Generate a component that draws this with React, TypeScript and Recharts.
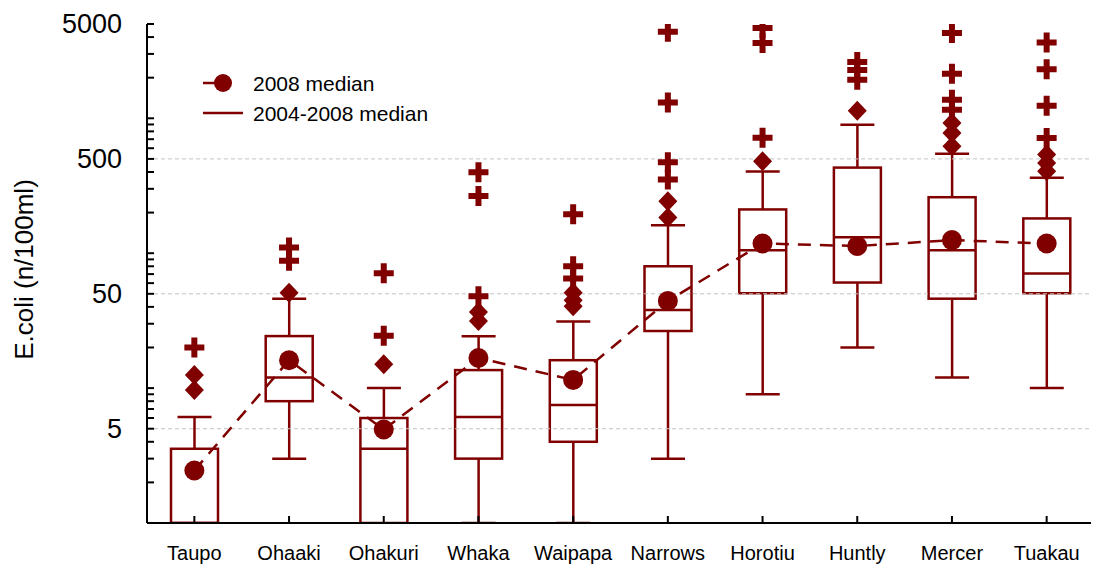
import React from "react";
import { ComposedChart, Bar, Line, Scatter, XAxis, YAxis, ReferenceLine, Legend } from "recharts";

const sites = ["Taupo", "Ohaaki", "Ohakuri", "Whaka", "Waipapa", "Narrows", "Horotiu", "Huntly", "Mercer", "Tuakau"];
const whiskerLow = [1, 3, 1, 1, 1, 3, 9, 20, 12, 10];
const quartile1 = [1, 8, 1, 3, 4, 26.5, 50.5, 60.6, 46, 50.5];
const median0408 = [1, 12, 3.55, 6.1, 7.5, 38, 105, 131, 105, 70.6];
const quartile3 = [3.55, 24.3, 6, 13.6, 16.1, 80, 211, 431, 260, 181];
const whiskerHigh = [6.1, 46, 10, 24.2, 31.2, 161, 403, 897, 545, 362];
const median2008 = [2.45, 16.1, 4.93, 16.7, 11.5, 44.3, 118, 113, 125, 118];
const outliers = [
  [12.5, 9.7],
  [51],
  [15],
  [36.6, 31.4],
  [51, 44.8, 40.5],
  [243, 184],
  [480],
  [1137],
  [620, 778, 922],
  [538, 467, 405],
];
const extremes = [
  [20],
  [110, 88],
  [24.4, 71],
  [48, 265, 398],
  [65, 80, 194],
  [352, 472, 1310, 4385],
  [718, 3620, 4670],
  [1929, 2284, 2618],
  [1157, 1371, 2136, 4280],
  [714, 1238, 2314, 3640],
];
const yLabelTicks = [5, 50, 500, 5000];
const yMinorTicks = [1, 2, 3, 4, 6, 7, 8, 9, 10, 20, 30, 40, 60, 70, 80, 90, 100, 200, 300, 400, 600, 700, 800, 900, 1000, 2000, 3000, 4000];
const legendItems = [
  { label: "2008 median", marker: true },
  { label: "2004-2008 median", marker: false },
];

const RED = "#800000";
const FONT = "'Liberation Sans', Arial, sans-serif";

const boxData = sites.map((site, i) => ({
  site,
  wLow: whiskerLow[i],
  q1: quartile1[i],
  med: median0408[i],
  q3: quartile3[i],
  wHigh: whiskerHigh[i],
  median2008: median2008[i],
}));

const outlierData = sites.flatMap((site, i) => outliers[i].map((value) => ({ site, value })));
const extremeData = sites.flatMap((site, i) => extremes[i].map((value) => ({ site, value })));
const allYTicks = [...yMinorTicks, ...yLabelTicks].sort((a, b) => a - b);

// box drawn inside the whisker range bar, positions found on the log axis
function BoxShape(props: any) {
  const { x, y, width, height, payload } = props;
  const hi = Math.log10(payload.wHigh);
  const lo = Math.log10(payload.wLow);
  const toY = (v: number) => y + ((hi - Math.log10(v)) / (hi - lo)) * height;
  const cx = x + width / 2;
  const capHalf = 17;
  const yQ1 = toY(payload.q1);
  const yQ3 = toY(payload.q3);
  const yMed = toY(payload.med);
  return (
    <g stroke={RED} strokeWidth={2.5} fill="none">
      <line x1={cx} x2={cx} y1={y} y2={yQ3} />
      <line x1={cx} x2={cx} y1={yQ1} y2={y + height} />
      <line x1={cx - capHalf} x2={cx + capHalf} y1={y} y2={y} />
      <line x1={cx - capHalf} x2={cx + capHalf} y1={y + height} y2={y + height} />
      <rect x={x} y={yQ3} width={width} height={yQ1 - yQ3} fill="#fff" />
      <line x1={x} x2={x + width} y1={yMed} y2={yMed} />
    </g>
  );
}

function Diamond(props: any) {
  const { cx, cy } = props;
  return <path d={`M${cx},${cy - 10} L${cx + 9.5},${cy} L${cx},${cy + 10} L${cx - 9.5},${cy} Z`} fill={RED} />;
}

function Cross(props: any) {
  const { cx, cy } = props;
  const a = 10;
  const t = 3;
  return (
    <path
      d={`M${cx - t},${cy - a} H${cx + t} V${cy - t} H${cx + a} V${cy + t} H${cx + t} V${cy + a} H${cx - t} V${cy + t} H${cx - a} V${cy - t} H${cx - t} Z`}
      fill={RED}
    />
  );
}

function LeftTick(props: any) {
  const { x, y, payload } = props;
  const labelled = yLabelTicks.includes(payload.value);
  return (
    <g>
      <line x1={x} x2={x + 7} y1={y} y2={y} stroke="#000" strokeWidth={2} />
      {labelled && (
        <text x={x - 25} y={y} textAnchor="end" dominantBaseline="central" fontSize={27} fontFamily={FONT} fill="#000" stroke="none">
          {payload.value}
        </text>
      )}
    </g>
  );
}

function RightTick(props: any) {
  const { x, y } = props;
  return <line x1={x} x2={x - 7} y1={y} y2={y} stroke="#000" strokeWidth={2} />;
}

function BottomTick(props: any) {
  const { x, y, payload } = props;
  return (
    <g>
      <line x1={x} x2={x} y1={y} y2={y - 7} stroke="#000" strokeWidth={2} />
      <text x={x} y={y + 37} textAnchor="middle" fontSize={20} fontFamily={FONT} fill="#000" stroke="none">
        {payload.value}
      </text>
    </g>
  );
}

function TopTick(props: any) {
  const { x, y } = props;
  return <line x1={x} x2={x} y1={y} y2={y + 8} stroke="#000" strokeWidth={2} />;
}

function renderYLabel(props: any) {
  const { viewBox } = props;
  const cx = viewBox.x + 16;
  const cy = viewBox.y + viewBox.height / 2 - 4;
  return (
    <text
      x={cx}
      y={cy}
      transform={`rotate(-90 ${cx} ${cy})`}
      textAnchor="middle"
      dominantBaseline="central"
      fontSize={26}
      fontFamily={FONT}
      fill="#000"
      stroke="none"
    >
      E.coli (n/100ml)
    </text>
  );
}

function LegendBox() {
  return (
    <svg width={260} height={60}>
      {legendItems.map((item, i) => {
        const cy = 15 + i * 30;
        return (
          <g key={item.label}>
            {item.marker ? (
              <>
                <line x1={0} x2={20} y1={cy} y2={cy} stroke={RED} strokeWidth={2.5} />
                <circle cx={20} cy={cy} r={9} fill={RED} />
              </>
            ) : (
              <line x1={0} x2={40} y1={cy} y2={cy} stroke={RED} strokeWidth={2.5} />
            )}
            <text x={50} y={cy} dominantBaseline="central" fontSize={21} fontFamily={FONT} fill="#000" stroke="none">
              {item.label}
            </text>
          </g>
        );
      })}
    </svg>
  );
}

export default function App() {
  return (
    <div style={{ fontFamily: FONT }}>
      <ComposedChart width={1091} height={561} data={boxData} margin={{ top: 16, right: 5, bottom: 0, left: 0 }}>
        <XAxis
          dataKey="site"
          scale="band"
          allowDuplicatedCategory={false}
          height={46}
          interval={0}
          tickSize={0}
          tickMargin={0}
          tickLine={false}
          tick={<BottomTick />}
          axisLine={{ stroke: "#000", strokeWidth: 2 }}
        />
        <XAxis
          xAxisId="top"
          dataKey="site"
          orientation="top"
          scale="band"
          height={0}
          interval={0}
          tickSize={0}
          tickMargin={0}
          tickLine={false}
          tick={<TopTick />}
          axisLine={{ stroke: "#000", strokeWidth: 2 }}
        />
        {/* separate hidden axis for the outlier points so their repeated categories don't repeat tick labels */}
        <XAxis xAxisId="points" dataKey="site" scale="band" allowDuplicatedCategory={false} hide />
        <YAxis
          scale="log"
          domain={[1, 5000]}
          allowDataOverflow
          ticks={allYTicks}
          interval={0}
          width={139}
          tickSize={0}
          tickMargin={0}
          tickLine={false}
          tick={<LeftTick />}
          axisLine={{ stroke: "#000", strokeWidth: 2 }}
          label={renderYLabel}
        />
        <YAxis
          yAxisId="right"
          orientation="right"
          scale="log"
          domain={[1, 5000]}
          allowDataOverflow
          ticks={yLabelTicks}
          interval={0}
          width={0}
          tickSize={0}
          tickMargin={0}
          tickLine={false}
          tick={<RightTick />}
          axisLine={{ stroke: "#000", strokeWidth: 2 }}
        />
        {yLabelTicks.slice(0, 3).map((v) => (
          <ReferenceLine key={v} y={v} stroke="#c4c4c4" strokeDasharray="4 3" strokeWidth={1} />
        ))}
        <Legend
          layout="horizontal"
          verticalAlign="middle"
          align="center"
          wrapperStyle={{ left: 195, top: 60, width: 270 }}
          content={<LegendBox />}
        />
        <Bar
          dataKey={(d: any) => [d.wLow, d.wHigh]}
          barSize={47}
          shape={<BoxShape />}
          isAnimationActive={false}
          legendType="none"
        />
        <Scatter xAxisId="points" data={outlierData} dataKey="value" shape={<Diamond />} isAnimationActive={false} legendType="none" />
        <Scatter xAxisId="points" data={extremeData} dataKey="value" shape={<Cross />} isAnimationActive={false} legendType="none" />
        <Line
          xAxisId="top"
          dataKey="median2008"
          stroke={RED}
          strokeWidth={2.5}
          strokeDasharray="13 9"
          dot={{ r: 10, fill: RED, stroke: RED, strokeWidth: 0 }}
          activeDot={false}
          isAnimationActive={false}
          legendType="none"
        />
      </ComposedChart>
    </div>
  );
}
